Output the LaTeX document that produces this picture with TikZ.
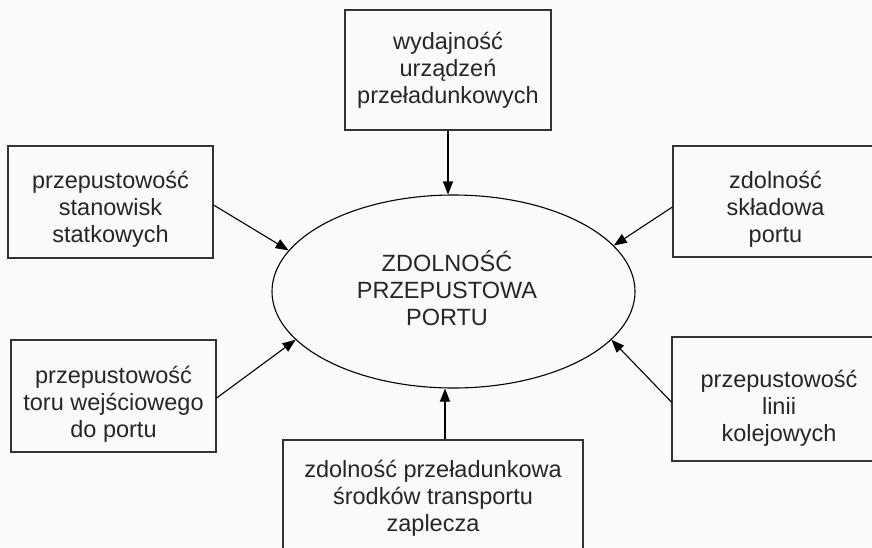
\documentclass[tikz,border=0pt]{standalone}
\usepackage{fontspec}
\setmainfont{Liberation Sans}
\usetikzlibrary{shapes.geometric,arrows.meta}

\begin{document}
\begin{tikzpicture}[
    x=1pt, y=-1pt,
    box/.style={draw=black!80, line width=1.2pt, inner sep=0pt, align=center,
        text=black!85, font=\fontsize{23.5}{27}\selectfont},
    txt/.style={inner sep=0pt, align=center, text=black!85,
        font=\fontsize{23.5}{27}\selectfont},
    hub/.style={ellipse, draw=black, line width=1.1pt, inner sep=0pt,
        minimum width=363pt, minimum height=193pt},
    arrow/.style={line width=1.1pt, -{Triangle[length=13pt,width=10pt]}}
]

    % Page, cut at the edges like the scan
    \fill[color={rgb,255:red,250;green,250;blue,250}] (0,0) rectangle (872,547);
    \useasboundingbox (0,0) rectangle (872,547);
    \clip (0,0) rectangle (872,547);

    % Draw central ellipse
    \node[hub] (port) at (453.5,291.5) {};
    \node[txt] (portlabel) at (447,288) {ZDOLNOŚĆ\\PRZEPUSTOWA\\PORTU};

    % Draw factor boxes
    \node[box, minimum width=206pt, minimum height=120pt] (urzadzenia) at (448,70)
        {wydajność\\urządzeń\\przeładunkowych};
    \node[box, minimum width=205pt, minimum height=112pt] (stanowiska) at (110.5,202) {};
    \node[box, minimum width=205pt, minimum height=111pt] (skladowa) at (775.5,201.5) {};
    \node[box, minimum width=205pt, minimum height=112pt] (tor) at (113.5,396) {};
    \node[box, minimum width=214pt, minimum height=124pt] (kolej) at (779,399) {};
    \node[box, minimum width=300pt, minimum height=116pt] (zaplecze) at (433,498)
        {zdolność przeładunkowa\\środków transportu\\zaplecza};

    % Texts of the side boxes, set a little low as in the scan
    \node[txt] (stanowiskatxt) at (110.5,209) {przepustowość\\stanowisk\\statkowych};
    \node[txt] (skladowatxt) at (775.5,209.5) {zdolność\\składowa\\portu};
    \node[txt] (tortxt) at (113.5,404) {przepustowość\\toru wejściowego\\do portu};
    \node[txt] (kolejtxt) at (779,408) {przepustowość\\linii\\kolejowych};

    % Draw arrows into the ellipse
    \draw[arrow] (urzadzenia.south) -- (urzadzenia.south |- port.north);
    \draw[arrow] ([yshift=-3pt]stanowiska.east) -- (port.166.4);
    \draw[arrow] ([yshift=-5.5pt]skladowa.west) -- (port.16.7);
    \draw[arrow] ([yshift=-2pt]tor.east) -- (port.197);
    \draw[arrow] ([yshift=-3pt]kolej.west) -- (port.343.5);
    \draw[arrow] ([xshift=12pt]zaplecze.north) -- ([xshift=12pt]zaplecze.north |- port.south);

\end{tikzpicture}
\end{document}
